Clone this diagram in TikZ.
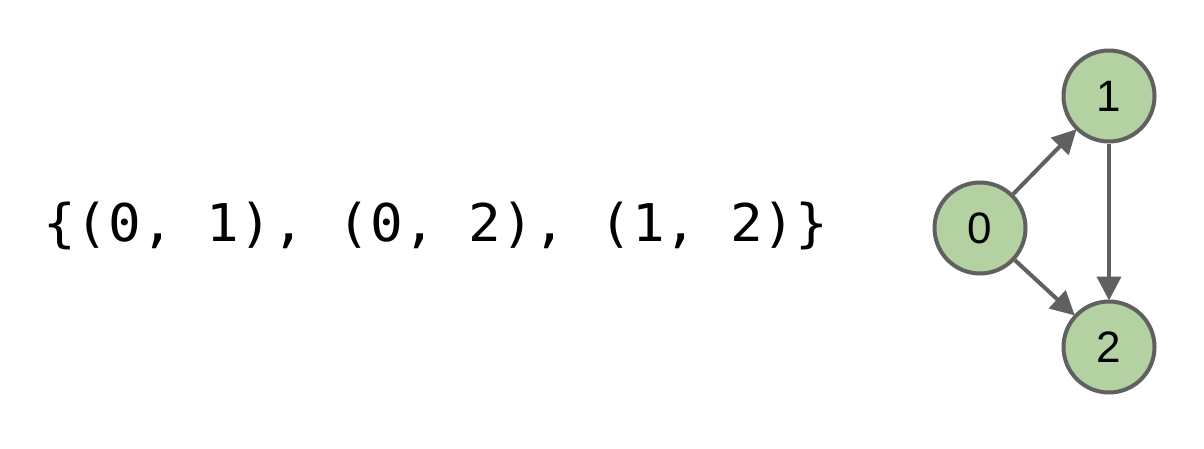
\documentclass[tikz,border=0pt]{standalone}
\usepackage{fontspec}
\setmainfont{Liberation Sans}
\newfontfamily\codefont[FakeStretch=1.045]{DejaVu Sans Mono}
\usetikzlibrary{arrows.meta}
\definecolor{nodefill}{HTML}{B3D1A1}
\definecolor{edgegray}{HTML}{606060}
\tikzset{
  vert/.style={circle, draw=edgegray, line width=4pt, fill=nodefill, minimum size=91pt, inner sep=0pt, font=\fontsize{44}{50}\selectfont},
  edge/.style={draw=edgegray, line width=4pt, -{Triangle[length=24pt,width=24pt]}, shorten >=-1pt},
  codetext/.style={font=\codefont\fontsize{52}{60}\selectfont, inner sep=0pt, anchor=base west}
}
\begin{document}
\begin{tikzpicture}[x=1pt,y=-1pt]
\useasboundingbox (0,0) rectangle (1204,448);
\node[codetext] (code) at (43,241) {\{(0, 1), (0, 2), (1, 2)\}};
\node[vert] (n0) at (980,228) {0};
\node[vert] (n1) at (1109,96) {1};
\node[vert] (n2) at (1109,347) {2};
\draw[edge] (n0) -- (n1);
\draw[edge] (n0) -- (n2);
\draw[edge] (n1) -- (n2);
\end{tikzpicture}
\end{document}
